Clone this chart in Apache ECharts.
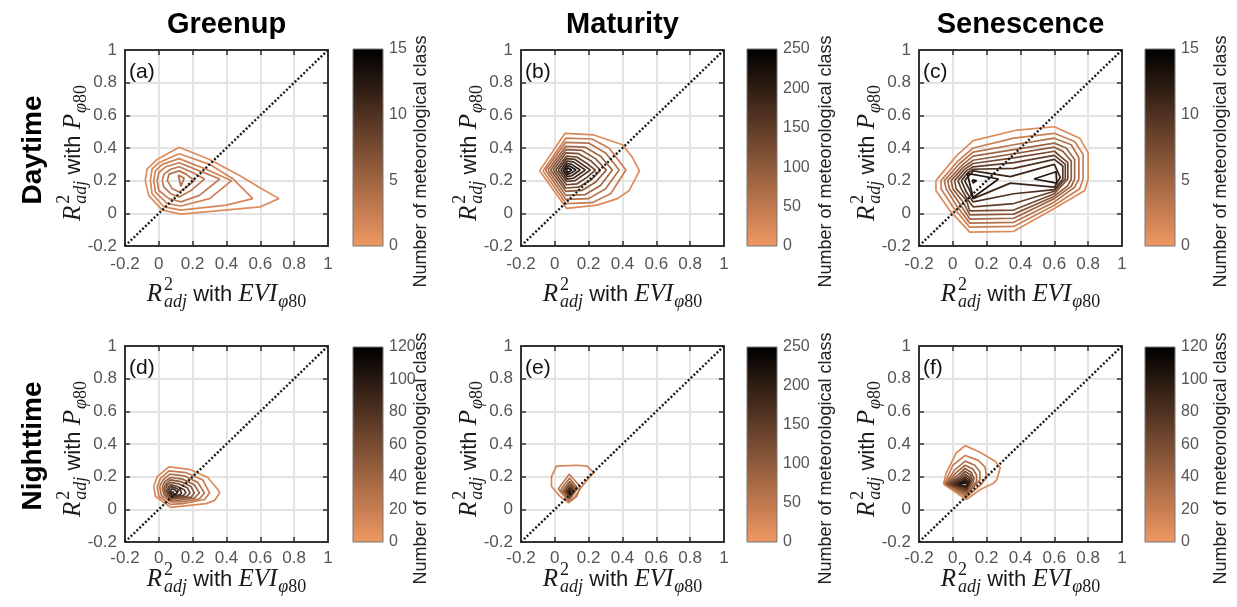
<!DOCTYPE html>
<html>
<head>
<meta charset="utf-8">
<script src="https://cdn.jsdelivr.net/npm/echarts@6/dist/echarts.min.js"></script>
<style>
  html, body { margin: 0; padding: 0; background: #ffffff; }
  #chart { width: 1237px; height: 607px; }
</style>
</head>
<body>
<div id="chart"></div>
<script>
// ---- shared axis range and labels ----
const AXIS_MIN = -0.2, AXIS_MAX = 1, AXIS_STEP = 0.2;
const PHASES = ['Greenup', 'Maturity', 'Senescence'];
const PERIODS = ['Daytime', 'Nighttime'];
const PANEL_TAGS = ['(a)', '(b)', '(c)', '(d)', '(e)', '(f)'];
const COLORBAR_MAX = [15, 250, 15, 120, 250, 120];
const COLORBAR_STEP = [5, 50, 5, 20, 50, 20];
const COLORBAR_TITLE = 'Number of meteorological class';
const X_SYMBOL = 'EVI';
const Y_SYMBOL = 'P';

// ---- contour levels and contour paths, points are [R2 with EVI, R2 with P] ----
const GREENUP_DAY_LEVELS = [1, 1.5, 2, 2.5, 3, 3.5, 4];
const GREENUP_DAY_CONTOURS = [
  [[-0.08,0.20],[-0.07,0.27],[-0.01,0.33],[0.12,0.405],[0.30,0.33],[0.48,0.23],[0.60,0.155],[0.71,0.09],[0.60,0.04],[0.13,-0.005],[0.02,0.02],[-0.06,0.11]],
  [[-0.05,0.20],[-0.04,0.27],[0.0,0.31],[0.12,0.365],[0.30,0.30],[0.44,0.21],[0.555,0.09],[0.40,0.05],[0.13,0.02],[0.03,0.04],[-0.04,0.12]],
  [[-0.03,0.20],[-0.02,0.26],[0.02,0.30],[0.12,0.335],[0.28,0.27],[0.43,0.20],[0.30,0.09],[0.13,0.045],[0.05,0.06],[-0.02,0.13]],
  [[-0.01,0.20],[0.0,0.25],[0.04,0.285],[0.12,0.31],[0.24,0.26],[0.36,0.21],[0.24,0.11],[0.13,0.07],[0.06,0.09],[0.0,0.14]],
  [[0.02,0.20],[0.03,0.24],[0.07,0.27],[0.12,0.285],[0.20,0.25],[0.27,0.21],[0.19,0.14],[0.12,0.10],[0.07,0.12],[0.03,0.16]],
  [[0.05,0.20],[0.06,0.24],[0.12,0.26],[0.16,0.24],[0.21,0.20],[0.15,0.15],[0.12,0.13],[0.08,0.15]],
  [[0.115,0.235],[0.15,0.215],[0.13,0.165]]
];

const MATURITY_DAY_LEVELS = [20, 40, 60, 80, 100, 120, 140, 160, 180, 200, 220, 240];
const MATURITY_DAY_CONTOURS = [
  [[-0.09,0.26],[0.06,0.49],[0.23,0.48],[0.40,0.42],[0.46,0.34],[0.50,0.26],[0.44,0.14],[0.37,0.09],[0.25,0.05],[0.07,0.03]],
  [[-0.07,0.26],[0.065,0.46],[0.22,0.455],[0.32,0.40],[0.42,0.265],[0.33,0.12],[0.22,0.065],[0.065,0.06]],
  [[-0.055,0.265],[0.065,0.435],[0.20,0.43],[0.30,0.37],[0.38,0.265],[0.30,0.15],[0.20,0.09],[0.065,0.085]],
  [[-0.04,0.265],[0.065,0.41],[0.18,0.405],[0.27,0.35],[0.34,0.265],[0.27,0.17],[0.18,0.115],[0.065,0.11]],
  [[-0.025,0.265],[0.065,0.39],[0.16,0.385],[0.24,0.335],[0.305,0.265],[0.24,0.19],[0.16,0.14],[0.065,0.135]],
  [[-0.01,0.265],[0.065,0.37],[0.14,0.365],[0.215,0.32],[0.27,0.265],[0.215,0.205],[0.14,0.16],[0.065,0.155]],
  [[0.005,0.265],[0.068,0.35],[0.13,0.345],[0.19,0.305],[0.24,0.265],[0.19,0.22],[0.13,0.18],[0.068,0.175]],
  [[0.02,0.265],[0.07,0.335],[0.12,0.33],[0.21,0.265],[0.12,0.20],[0.07,0.195]],
  [[0.035,0.265],[0.072,0.32],[0.11,0.315],[0.18,0.265],[0.11,0.215],[0.072,0.21]],
  [[0.048,0.265],[0.074,0.305],[0.10,0.30],[0.15,0.265],[0.10,0.23],[0.074,0.225]],
  [[0.058,0.265],[0.076,0.29],[0.09,0.288],[0.125,0.265],[0.09,0.243],[0.076,0.24]],
  [[0.068,0.265],[0.078,0.278],[0.10,0.265],[0.078,0.252]]
];

const SENESCENCE_DAY_LEVELS = [1, 2.3, 3.6, 4.9, 6.2, 7.5, 8.8, 10.1, 11.4, 12.7, 12.7, 14];
const SENESCENCE_DAY_CONTOURS = [
  [[-0.10,0.20],[-0.10,0.14],[-0.02,0.02],[0.10,-0.115],[0.36,-0.11],[0.60,0.03],[0.78,0.14],[0.80,0.21],[0.80,0.37],[0.75,0.46],[0.60,0.53],[0.38,0.51],[0.12,0.445],[0.02,0.35]],
  [[-0.07,0.20],[-0.07,0.15],[0.0,0.04],[0.10,-0.085],[0.36,-0.08],[0.60,0.05],[0.75,0.15],[0.77,0.21],[0.77,0.36],[0.72,0.44],[0.60,0.49],[0.36,0.46],[0.12,0.40],[0.03,0.32]],
  [[-0.05,0.20],[-0.04,0.15],[0.02,0.05],[0.10,-0.06],[0.36,-0.055],[0.60,0.07],[0.72,0.16],[0.745,0.21],[0.745,0.34],[0.70,0.42],[0.60,0.46],[0.36,0.42],[0.12,0.375],[0.04,0.305]],
  [[-0.03,0.20],[-0.02,0.15],[0.04,0.06],[0.10,-0.035],[0.36,-0.03],[0.60,0.09],[0.70,0.165],[0.72,0.21],[0.72,0.33],[0.67,0.40],[0.60,0.43],[0.36,0.39],[0.12,0.35],[0.05,0.29]],
  [[-0.01,0.20],[0.0,0.15],[0.06,0.07],[0.10,-0.01],[0.36,-0.005],[0.60,0.105],[0.68,0.17],[0.70,0.21],[0.70,0.32],[0.65,0.38],[0.60,0.405],[0.36,0.365],[0.12,0.325],[0.06,0.28]],
  [[0.01,0.20],[0.02,0.15],[0.08,0.08],[0.10,0.015],[0.36,0.02],[0.60,0.12],[0.68,0.21],[0.68,0.31],[0.60,0.38],[0.36,0.34],[0.12,0.305],[0.07,0.27]],
  [[0.03,0.20],[0.05,0.15],[0.09,0.08],[0.12,0.04],[0.36,0.06],[0.60,0.135],[0.665,0.21],[0.665,0.30],[0.60,0.355],[0.36,0.31],[0.12,0.285],[0.08,0.26]],
  [[0.05,0.20],[0.08,0.13],[0.12,0.07],[0.36,0.12],[0.60,0.145],[0.65,0.21],[0.65,0.29],[0.60,0.33],[0.36,0.275],[0.12,0.27],[0.09,0.25]],
  [[0.07,0.20],[0.10,0.14],[0.12,0.09],[0.34,0.185],[0.60,0.16],[0.635,0.22],[0.60,0.30],[0.34,0.225],[0.12,0.26]],
  [[0.085,0.245],[0.27,0.21],[0.12,0.097]],
  [[0.48,0.21],[0.61,0.255],[0.615,0.185]],
  [[0.115,0.205],[0.14,0.20],[0.12,0.185]]
];

const GREENUP_NIGHT_LEVELS = [10, 20, 30, 40, 50, 60, 70, 80, 90, 100];
const GREENUP_NIGHT_CONTOURS = [
  [[-0.03,0.14],[-0.01,0.20],[0.06,0.26],[0.18,0.245],[0.29,0.195],[0.35,0.12],[0.36,0.10],[0.33,0.055],[0.28,0.035],[0.14,0.02],[0.07,0.012],[-0.02,0.08]],
  [[-0.01,0.14],[0.01,0.19],[0.06,0.235],[0.16,0.225],[0.26,0.18],[0.30,0.10],[0.27,0.06],[0.14,0.035],[0.07,0.03],[0.0,0.08]],
  [[0.005,0.14],[0.025,0.18],[0.065,0.215],[0.15,0.205],[0.23,0.165],[0.27,0.10],[0.24,0.065],[0.13,0.045],[0.075,0.045],[0.015,0.085]],
  [[0.02,0.135],[0.035,0.17],[0.07,0.195],[0.14,0.185],[0.21,0.15],[0.24,0.10],[0.21,0.07],[0.12,0.055],[0.075,0.055],[0.03,0.09]],
  [[0.03,0.13],[0.045,0.16],[0.07,0.18],[0.13,0.17],[0.19,0.14],[0.21,0.10],[0.19,0.075],[0.11,0.065],[0.075,0.065],[0.04,0.09]],
  [[0.04,0.125],[0.05,0.15],[0.072,0.165],[0.12,0.155],[0.17,0.13],[0.185,0.10],[0.165,0.08],[0.10,0.072],[0.076,0.072],[0.05,0.095]],
  [[0.05,0.12],[0.058,0.14],[0.074,0.15],[0.11,0.14],[0.15,0.12],[0.16,0.10],[0.145,0.085],[0.095,0.078],[0.077,0.078],[0.058,0.097]],
  [[0.058,0.115],[0.064,0.13],[0.076,0.138],[0.10,0.13],[0.13,0.113],[0.135,0.10],[0.12,0.088],[0.09,0.083],[0.078,0.083],[0.064,0.10]],
  [[0.065,0.11],[0.07,0.12],[0.078,0.125],[0.095,0.12],[0.11,0.10],[0.09,0.088],[0.079,0.088],[0.068,0.10]],
  [[0.072,0.105],[0.08,0.113],[0.09,0.105],[0.08,0.093]]
];

const MATURITY_NIGHT_LEVELS = [25, 50, 75, 100, 125, 150, 175, 200, 225];
const MATURITY_NIGHT_CONTOURS = [
  [[-0.02,0.14],[-0.02,0.20],[0.01,0.265],[0.13,0.27],[0.19,0.265],[0.23,0.225],[0.20,0.19],[0.16,0.14],[0.12,0.08],[0.08,0.04],[0.03,0.08]],
  [[0.02,0.125],[0.085,0.215],[0.15,0.14],[0.13,0.08],[0.085,0.045]],
  [[0.035,0.12],[0.087,0.19],[0.135,0.13],[0.087,0.058]],
  [[0.048,0.115],[0.088,0.17],[0.125,0.125],[0.088,0.068]],
  [[0.058,0.112],[0.089,0.155],[0.117,0.12],[0.089,0.076]],
  [[0.066,0.11],[0.09,0.14],[0.11,0.115],[0.09,0.083]],
  [[0.073,0.108],[0.09,0.13],[0.105,0.112],[0.09,0.089]],
  [[0.079,0.106],[0.09,0.12],[0.10,0.108],[0.09,0.094]],
  [[0.085,0.105],[0.09,0.112],[0.096,0.105],[0.09,0.099]]
];

const SENESCENCE_NIGHT_LEVELS = [10, 20, 30, 40, 50, 60, 70, 80, 90, 100, 110];
const SENESCENCE_NIGHT_CONTOURS = [
  [[-0.055,0.155],[-0.04,0.22],[0.02,0.345],[0.073,0.39],[0.16,0.35],[0.25,0.295],[0.28,0.255],[0.26,0.18],[0.24,0.16],[0.16,0.12],[0.08,0.06]],
  [[-0.05,0.155],[0.0,0.27],[0.073,0.33],[0.15,0.30],[0.19,0.26],[0.20,0.20],[0.17,0.155],[0.08,0.075]],
  [[-0.045,0.155],[0.01,0.24],[0.073,0.295],[0.13,0.27],[0.16,0.23],[0.16,0.18],[0.08,0.085]],
  [[-0.04,0.155],[0.02,0.225],[0.073,0.27],[0.12,0.245],[0.14,0.21],[0.14,0.17],[0.08,0.095]],
  [[-0.035,0.155],[0.03,0.21],[0.073,0.25],[0.11,0.225],[0.125,0.19],[0.12,0.165],[0.08,0.105]],
  [[-0.025,0.155],[0.04,0.20],[0.073,0.232],[0.105,0.21],[0.115,0.18],[0.105,0.16],[0.08,0.113]],
  [[-0.015,0.155],[0.045,0.19],[0.073,0.215],[0.10,0.195],[0.105,0.17],[0.08,0.12]],
  [[0.0,0.155],[0.05,0.182],[0.073,0.20],[0.095,0.185],[0.10,0.165],[0.08,0.128]],
  [[0.015,0.155],[0.055,0.175],[0.073,0.188],[0.09,0.175],[0.093,0.16],[0.079,0.135]],
  [[0.03,0.155],[0.06,0.168],[0.073,0.177],[0.086,0.166],[0.087,0.156],[0.078,0.14]],
  [[0.045,0.155],[0.065,0.163],[0.073,0.168],[0.08,0.16],[0.078,0.148]]
];

const PANEL_LEVELS = [GREENUP_DAY_LEVELS, MATURITY_DAY_LEVELS, SENESCENCE_DAY_LEVELS,
                      GREENUP_NIGHT_LEVELS, MATURITY_NIGHT_LEVELS, SENESCENCE_NIGHT_LEVELS];
const PANEL_CONTOURS = [GREENUP_DAY_CONTOURS, MATURITY_DAY_CONTOURS, SENESCENCE_DAY_CONTOURS,
                        GREENUP_NIGHT_CONTOURS, MATURITY_NIGHT_CONTOURS, SENESCENCE_NIGHT_CONTOURS];

// ---- page layout (pixels) ----
const PLOT_LEFT = [125, 521, 919];
const PLOT_TOP = [50, 346];
const PLOT_W = 203, PLOT_H = 196;
const CB_LEFT = [353, 747, 1145];
const CB_TOP = [49, 347];
const CB_W = 30, CB_H = [197, 195];
const CB_TITLE_X = [421, 826, 1221];
const X_TITLE_OFFSET = [56, 45];

// copper-like map: light orange at zero fading to black at the top of the scale
const LOW_RGB = [238, 150, 98];
function levelColor(t) {
  t = Math.max(0, Math.min(1, t));
  const c = LOW_RGB.map(v => Math.round(v * (1 - t)));
  return 'rgb(' + c.join(',') + ')';
}
function colorbarGradient() {
  const stops = [];
  const n = 64;
  for (let i = 0; i < n; i++) {
    const col = levelColor(1 - i / (n - 1));
    stops.push({ offset: i / n, color: col });
    stops.push({ offset: (i + 1) / n, color: col });
  }
  return new echarts.graphic.LinearGradient(0, 0, 0, 1, stops);
}

// ---- text measuring for the composed axis titles ----
const measureCtx = document.createElement('canvas').getContext('2d');
function textWidth(str, font) { measureCtx.font = font; return measureCtx.measureText(str).width; }
const MATH_FONT = '"Liberation Serif", "DejaVu Serif", serif';
const SANS_FONT = '"Liberation Sans", Arial, sans-serif';

function axisTitle(cx, cy, vertical, sym) {
  const bigSize = 25, smallSize = 18, sansSize = 22;
  const big = 'italic ' + bigSize + 'px ' + MATH_FONT;
  const small = smallSize + 'px ' + MATH_FONT;
  const smallIt = 'italic ' + smallSize + 'px ' + MATH_FONT;
  const sans = sansSize + 'px ' + SANS_FONT;
  const parts = [];
  let x = 0;
  function put(str, font, size, dy) { parts.push({ str, font, size, x, dy }); return textWidth(str, font); }
  x += put('R', big, bigSize, 0) + 2;
  const w2 = put('2', small, smallSize, -11);
  const wa = put('adj', smallIt, smallSize, 6);
  x += Math.max(w2, wa);
  x += put(' with ', sans, sansSize, 0);
  x += put(sym, big, bigSize, 0) + 1;
  x += put('\u03c6', smallIt, smallSize, 6);
  x += put('80', small, smallSize, 6);
  const total = x;
  const children = parts.map(p => ({
    type: 'text',
    x: p.x - total / 2,
    y: p.dy - 0.3 * p.size,
    style: { text: p.str, font: p.font, fill: '#1a1a1a',
             textAlign: 'left', textVerticalAlign: 'middle', align: 'left', verticalAlign: 'middle' }
  }));
  return { type: 'group', x: cx, y: cy, rotation: vertical ? Math.PI / 2 : 0, children, silent: true };
}

// ---- build option ----
const grid = [], xAxis = [], yAxis = [], series = [], graphic = [];
const AXIS_LINE = { show: true, onZero: false, lineStyle: { color: '#333333', width: 2 } };
const AXIS_TICK = { show: true, inside: true, length: 5, lineStyle: { color: '#333333', width: 1.5 } };
const TICK_LABEL = { color: '#555555', fontSize: 17, fontFamily: SANS_FONT, margin: 8 };
const GRID_LINE = { show: true, lineStyle: { color: '#e3e3e3', width: 2 } };

for (let p = 0; p < 6; p++) {
  const row = Math.floor(p / 3), col = p % 3;
  grid.push({ left: PLOT_LEFT[col], top: PLOT_TOP[row], width: PLOT_W, height: PLOT_H, show: false });
  const base = { gridIndex: p, type: 'value', min: AXIS_MIN, max: AXIS_MAX, interval: AXIS_STEP,
                 axisLine: AXIS_LINE, axisTick: AXIS_TICK };
  xAxis.push(Object.assign({}, base, { position: 'bottom', axisLabel: Object.assign({}, TICK_LABEL, { margin: row === 0 ? 10 : 8 }), splitLine: GRID_LINE }));
  xAxis.push(Object.assign({}, base, { position: 'top', axisLabel: { show: false }, splitLine: { show: false } }));
  yAxis.push(Object.assign({}, base, { position: 'left', axisLabel: TICK_LABEL, splitLine: GRID_LINE }));
  yAxis.push(Object.assign({}, base, { position: 'right', axisLabel: { show: false }, splitLine: { show: false } }));
}
for (let p = 0; p < 6; p++) {
  const row = Math.floor(p / 3), col = p % 3;
  grid.push({ left: CB_LEFT[col], top: CB_TOP[row], width: CB_W, height: CB_H[row], show: false });
  xAxis.push({ gridIndex: 6 + p, type: 'value', min: 0, max: 1, show: false });
  yAxis.push({ gridIndex: 6 + p, type: 'value', min: 0, max: COLORBAR_MAX[p], interval: COLORBAR_STEP[p],
               position: 'right', axisLine: { show: false }, axisTick: { show: false },
               axisLabel: { color: '#555555', fontSize: 16, fontFamily: SANS_FONT, margin: 6 },
               splitLine: { show: false } });
}

// contour lines
for (let p = 0; p < 6; p++) {
  const levels = PANEL_LEVELS[p];
  PANEL_CONTOURS[p].forEach((path, i) => {
    series.push({
      type: 'line', xAxisIndex: 2 * p, yAxisIndex: 2 * p,
      data: path.concat([path[0]]),
      showSymbol: false, symbol: 'none', silent: true, z: 3,
      lineStyle: { color: levelColor(levels[i] / COLORBAR_MAX[p]), width: 1.7 }
    });
  });
  // 1:1 reference line
  series.push({
    type: 'line', xAxisIndex: 2 * p, yAxisIndex: 2 * p,
    data: [[AXIS_MIN, AXIS_MIN], [AXIS_MAX, AXIS_MAX]],
    showSymbol: false, symbol: 'none', silent: true, z: 4,
    lineStyle: { color: '#1a1a1a', width: 2.4, type: [2, 2] }
  });
  // colour bar
  series.push({
    type: 'custom', xAxisIndex: 12 + p, yAxisIndex: 12 + p, silent: true,
    data: [[0, 0, COLORBAR_MAX[p]]],
    renderItem: function (params, api) {
      const lo = api.coord([0, api.value(1)]);
      const hi = api.coord([1, api.value(2)]);
      return { type: 'rect',
               shape: { x: lo[0], y: hi[1], width: hi[0] - lo[0], height: lo[1] - hi[1] },
               style: { fill: colorbarGradient(), stroke: '#777777', lineWidth: 1 } };
    }
  });
}

// titles, row labels, panel tags, colour bar titles, axis titles
PHASES.forEach((name, col) => {
  graphic.push({ type: 'text', x: PLOT_LEFT[col] + PLOT_W / 2, y: 25, silent: true,
    style: { text: name, font: 'bold 29px ' + SANS_FONT, fill: '#000000',
             textAlign: 'center', textVerticalAlign: 'middle', align: 'center', verticalAlign: 'middle' } });
});
PERIODS.forEach((name, row) => {
  graphic.push({ type: 'text', x: 33, y: PLOT_TOP[row] + PLOT_H / 2 + 2, rotation: Math.PI / 2, silent: true,
    style: { text: name, font: 'bold 28px ' + SANS_FONT, fill: '#000000',
             textAlign: 'center', textVerticalAlign: 'middle', align: 'center', verticalAlign: 'middle' } });
});
for (let p = 0; p < 6; p++) {
  const row = Math.floor(p / 3), col = p % 3;
  graphic.push({ type: 'text', x: PLOT_LEFT[col] + 4, y: PLOT_TOP[row] + 22, silent: true,
    style: { text: PANEL_TAGS[p], font: '21px ' + SANS_FONT, fill: '#111111',
             textAlign: 'left', textVerticalAlign: 'middle', align: 'left', verticalAlign: 'middle' } });
  graphic.push({ type: 'text', x: CB_TITLE_X[col], y: CB_TOP[row] + CB_H[row] / 2 + 14, rotation: Math.PI / 2, silent: true,
    style: { text: COLORBAR_TITLE, font: '18px ' + SANS_FONT, fill: '#222222',
             textAlign: 'center', textVerticalAlign: 'middle', align: 'center', verticalAlign: 'middle' } });
  graphic.push(axisTitle(PLOT_LEFT[col] + PLOT_W / 2, PLOT_TOP[row] + PLOT_H + X_TITLE_OFFSET[row], false, X_SYMBOL));
  graphic.push(axisTitle(PLOT_LEFT[col] - 44, PLOT_TOP[row] + PLOT_H / 2 + 5, true, Y_SYMBOL));
}

const chart = echarts.init(document.getElementById('chart'), null, { renderer: 'canvas' });
chart.setOption({
  animation: false,
  backgroundColor: '#ffffff',
  textStyle: { fontFamily: SANS_FONT },
  grid, xAxis, yAxis, series, graphic
});
</script>
</body>
</html>
